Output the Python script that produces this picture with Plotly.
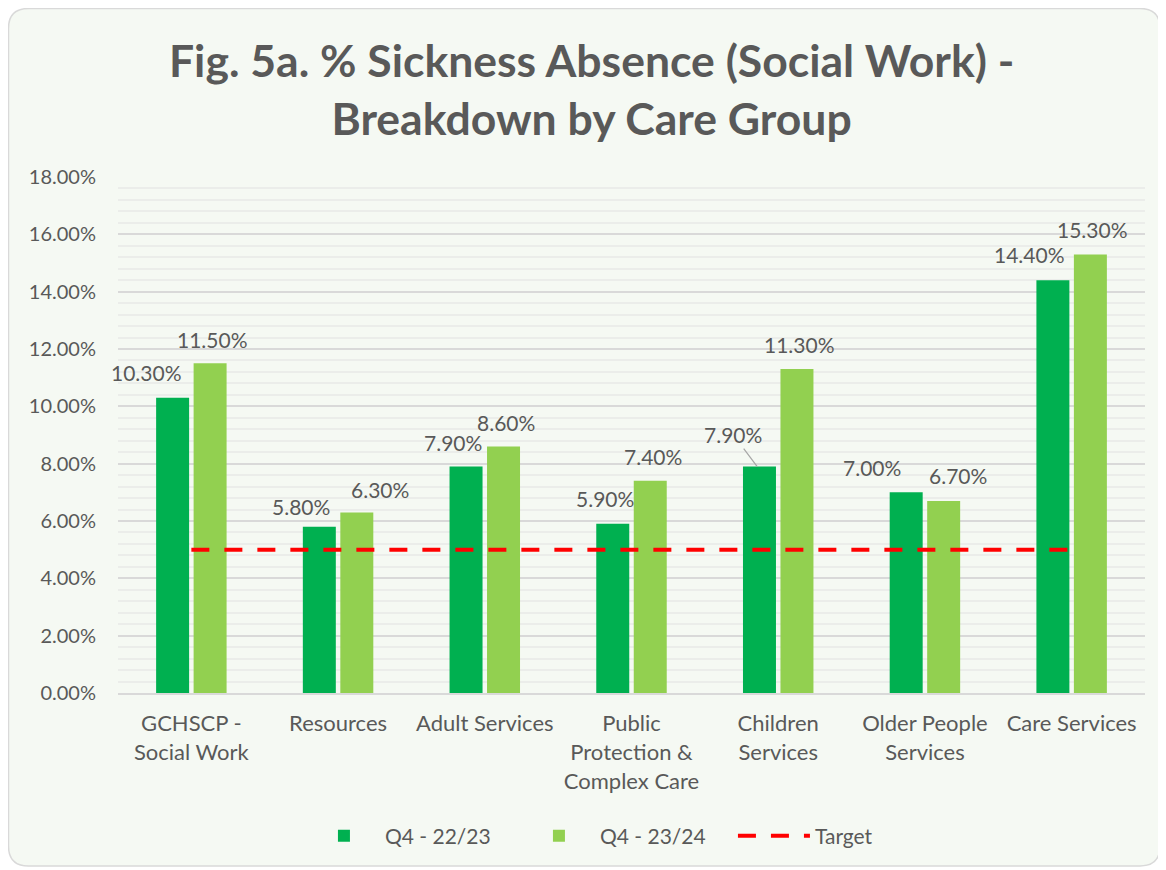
import plotly.graph_objects as go

categories = ["GCHSCP -<br>Social Work", "Resources", "Adult Services",
              "Public<br>Protection &<br>Complex Care", "Children<br>Services",
              "Older People<br>Services", "Care Services"]
q4_2223 = [10.3, 5.8, 7.9, 5.9, 7.9, 7.0, 14.4]
q4_2324 = [11.5, 6.3, 8.6, 7.4, 11.3, 6.7, 15.3]
target = [5.0, 5.0, 5.0, 5.0, 5.0, 5.0, 5.0]
series_names = ["Q4 - 22/23", "Q4 - 23/24", "Target"]

# label offsets (pixels) relative to each bar top
lab_dx_a = [-24, -16, -11, -6, -24, -32, -21]
lab_dy_a = [25, 20, 24, 25, 32, 25, 26]
lab_dx_b = [0, 21, 0, 0, 0, 12, 0]
lab_dy_b = [24, 23, 24, 24, 25, 25, 25]

DARK = "#00B050"
LIGHT = "#92D050"
TXT = "#595959"
FONT = "Lato"
BG = "#F5F9F3"

W, H = 1158, 862
L, R, T, B = 110, 21, 169, 177

fig = go.Figure()
fig.add_trace(go.Bar(x=categories, y=q4_2223, name=series_names[0],
                     marker=dict(color=DARK, line=dict(width=0))))
fig.add_trace(go.Bar(x=categories, y=q4_2324, name=series_names[1],
                     marker=dict(color=LIGHT, line=dict(width=0))))
fig.add_trace(go.Scatter(x=categories, y=target, name=series_names[2], mode="lines",
                         line=dict(color="#FF0000", width=4, dash="18px,15px")))

ann = []
for i, c in enumerate(categories):
    va, vb = q4_2223[i], q4_2324[i]
    if i == 4:
        ann.append(dict(x=c, y=va, xref="x", yref="y", xshift=-21,
                        text=f"{va:.2f}%", showarrow=True, arrowhead=0,
                        arrowwidth=1.2, arrowcolor="#A6A6A6",
                        ax=lab_dx_a[i], ay=-lab_dy_a[i], standoff=0,
                        font=dict(family=FONT, size=21, color=TXT)))
    else:
        ann.append(dict(x=c, y=va, xref="x", yref="y",
                        xshift=-21 + lab_dx_a[i], yshift=lab_dy_a[i],
                        text=f"{va:.2f}%", showarrow=False,
                        font=dict(family=FONT, size=21, color=TXT)))
    ann.append(dict(x=c, y=vb, xref="x", yref="y",
                    xshift=21 + lab_dx_b[i], yshift=lab_dy_b[i],
                    text=f"{vb:.2f}%", showarrow=False,
                    font=dict(family=FONT, size=21, color=TXT)))

# rounded chart border (paper coords relative to plot area)
pw, ph = W - L - R, H - T - B
bx0, bx1, by0, by1 = 0.5, 1152, 0.5, 858
x0, x1 = (bx0 - L) / pw, (bx1 - L) / pw
y1, y0 = (H - B - by0) / ph, (H - B - by1) / ph
rx, ry = 20 / pw, 20 / ph
path = (f"M {x0+rx},{y1} L {x1-rx},{y1} Q {x1},{y1} {x1},{y1-ry} "
        f"L {x1},{y0+ry} Q {x1},{y0} {x1-rx},{y0} L {x0+rx},{y0} "
        f"Q {x0},{y0} {x0},{y0+ry} L {x0},{y1-ry} Q {x0},{y1} {x0+rx},{y1} Z")

fig.update_layout(
    width=W, height=H,
    margin=dict(l=L, r=R, t=T, b=B, autoexpand=False),
    paper_bgcolor="white",
    plot_bgcolor="rgba(0,0,0,0)",
    barmode="group", bargap=0.489, bargroupgap=0.12,
    title=dict(text="<b>Fig. 5a. % Sickness Absence (Social Work) -<br>Breakdown by Care Group</b>",
               x=0.504, xanchor="center", y=0.92, yanchor="top",
               font=dict(family=FONT, size=44.5, color=TXT)),
    font=dict(family=FONT, color=TXT),
    showlegend=True,
    legend=dict(orientation="h", xref="container", yref="container",
                x=0.2547, xanchor="left", y=1 - 828 / H, yanchor="middle",
                itemwidth=72, entrywidth=128, entrywidthmode="pixels",
                font=dict(family=FONT, size=21, color=TXT),
                bgcolor="rgba(0,0,0,0)"),
    annotations=ann,
    shapes=[dict(type="path", path=path, xref="paper", yref="paper",
                 fillcolor=BG, line=dict(color="#D9D9D9", width=1.5), layer="below")],
)
fig.update_yaxes(range=[0, 18], dtick=2, tickformat=".2f", ticksuffix="%",
                 showgrid=True, gridcolor="#D9D9D9", gridwidth=1.5,
                 minor=dict(dtick=0.4, showgrid=True, gridcolor="#EBEDEA", gridwidth=1.5),
                 zeroline=False, showline=False, automargin=False,
                 tickfont=dict(family=FONT, size=20, color=TXT), ticklabelstandoff=21)
fig.update_xaxes(range=[-0.5, 6.5], autorange=False,
                 showline=True, linecolor="#D9D9D9", linewidth=2, showgrid=False,
                 automargin=False,
                 tickfont=dict(family=FONT, size=22, color=TXT), ticklabelstandoff=10)

fig.write_html("out.html")
